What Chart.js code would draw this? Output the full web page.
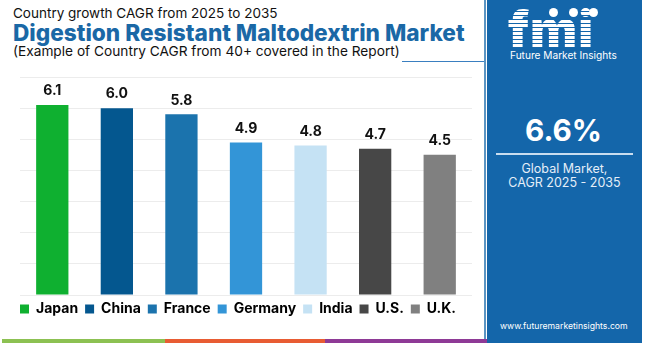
<!DOCTYPE html>
<html><head><meta charset="utf-8">
<script src="https://cdn.jsdelivr.net/npm/chart.js@4.4.1/dist/chart.umd.min.js"></script>
<style>
html,body{margin:0;padding:0;width:650px;height:343px;overflow:hidden;background:#fff;font-family:Inter,"Noto Sans",sans-serif;}
.t{position:absolute;white-space:nowrap;line-height:1;}
#panel{position:absolute;left:487px;top:0;width:155px;height:343px;background:#1466aa;}
#cw{position:absolute;left:0;top:62px;width:487px;height:266px;}
.bar{position:absolute;top:339px;height:4px;}
</style></head><body>
<div class="t" id="t1" style="left:13px;top:7px;font-size:14px;color:#111;" data-w="265">Country growth CAGR from 2025 to 2035</div>
<div class="t" id="t2" style="left:13px;top:22px;font-size:23px;font-weight:800;color:#1a68a6;" data-w="452">Digestion Resistant Maltodextrin Market</div>
<div class="t" id="t3" style="left:13px;top:45px;font-size:14px;color:#111;" data-w="387">(Example of Country CAGR from 40+ covered in the Report)</div>
<div style="position:absolute;left:402px;top:61px;width:82px;height:1px;background:#3a7fc0;"></div>
<div style="position:absolute;left:484px;top:0;width:2px;height:343px;background:#1466aa;opacity:0.7"></div>
<div id="cw"><canvas id="c"></canvas></div>
<div class="bar" style="left:2px;width:163px;background:#8cc152;"></div>
<div class="bar" style="left:165px;width:160px;background:#e85c33;"></div>
<div class="bar" style="left:325px;width:162px;background:#8e3a96;"></div>
<div id="panel">
  <div class="t" style="left:21px;top:4px;font-size:50px;font-weight:900;color:#fff;letter-spacing:1px;background:repeating-linear-gradient(#fff 0 3px,#1466aa 3px 4px);-webkit-background-clip:text;background-clip:text;-webkit-text-fill-color:transparent;">fmi</div>
  <div style="position:absolute;left:62px;top:8px;width:9px;height:9px;border-radius:50%;background:#fff;"></div>
  <div style="position:absolute;left:82px;top:8px;width:9px;height:9px;border-radius:50%;background:#fff;"></div>
  <div style="position:absolute;left:102px;top:8px;width:9px;height:9px;border-radius:50%;background:#fff;"></div>
  <div class="t" id="p0" style="left:23px;top:50px;font-size:10px;color:#fff;" data-w="107">Future Market Insights</div>
  <div class="t" id="p1" style="left:38px;top:116px;font-size:33px;font-weight:700;color:#fff;" data-w="77">6.6%</div>
  <div style="position:absolute;left:9px;top:153px;width:137px;height:2px;background:#c9ddef;"></div>
  <div class="t" id="p2" style="left:0;width:155px;text-align:center;top:163px;font-size:12.5px;color:#e4eef8;">Global Market,</div>
  <div class="t" id="p3" style="left:0;width:155px;text-align:center;top:177px;font-size:12.5px;color:#e4eef8;">CAGR 2025 - 2035</div>
  <div class="t" id="p4" style="left:13px;top:322px;font-size:10.5px;color:#fff;" data-w="128">www.futuremarketinsights.com</div>
</div>
<script>
const countries = ["Japan","China","France","Germany","India","U.S.","U.K."];
const cagrValues = [6.1, 6.0, 5.8, 4.9, 4.8, 4.7, 4.5];
const barColors = ["#0fb030","#04578f","#1b73ad","#3395d7","#c5e2f4","#474747","#808080"];
const yTicks = [0,1,2,3,4,5,6,7];

// fit text widths
document.querySelectorAll('[data-w]').forEach(el=>{
  const target=parseFloat(el.dataset.w);
  const w=el.getBoundingClientRect().width;
  const fs=parseFloat(getComputedStyle(el).fontSize);
  el.style.fontSize=(fs*target/w)+'px';
});

const valueLabels = {
  id:'valueLabels',
  afterDatasetsDraw(chart){
    const ctx=chart.ctx;
    const meta=chart.getDatasetMeta(0);
    ctx.save();
    ctx.font='700 14px Inter, "Noto Sans", sans-serif';
    ctx.fillStyle='#111';
    ctx.textAlign='center';
    ctx.textBaseline='middle';
    meta.data.forEach((el,i)=>{
      const p=el.getProps(['x','y'],true);
      ctx.fillText(cagrValues[i].toFixed(1), p.x, p.y-14);
    });
    ctx.restore();
  }
};

new Chart(document.getElementById('c'),{
  type:'bar',
  data:{labels:countries,datasets:[{data:cagrValues,backgroundColor:barColors,borderWidth:0,barPercentage:0.5,categoryPercentage:1}]},
  options:{
    responsive:true,maintainAspectRatio:false,animation:false,
    layout:{padding:{left:4,right:15,top:15,bottom:2}},
    plugins:{
      tooltip:{enabled:false},
      legend:{position:'bottom',
        labels:{boxWidth:9,boxHeight:9,padding:7,color:'#111',font:{family:'Inter, "Noto Sans", sans-serif',size:14,weight:'700'},
          generateLabels(chart){return countries.map((c,i)=>({text:c,fillStyle:barColors[i],strokeStyle:barColors[i],lineWidth:0,index:i}));}
        }
      }
    },
    scales:{
      x:{display:false},
      y:{min:yTicks[0],max:yTicks[yTicks.length-1],
        afterBuildTicks(s){s.ticks=yTicks.map(v=>({value:v}));},
        afterFit(s){s.width=16;},
        ticks:{display:false},border:{display:false},grid:{color:'#ececec',lineWidth:1,drawTicks:false}}
    }
  },
  plugins:[valueLabels]
});
</script>
</body></html>
